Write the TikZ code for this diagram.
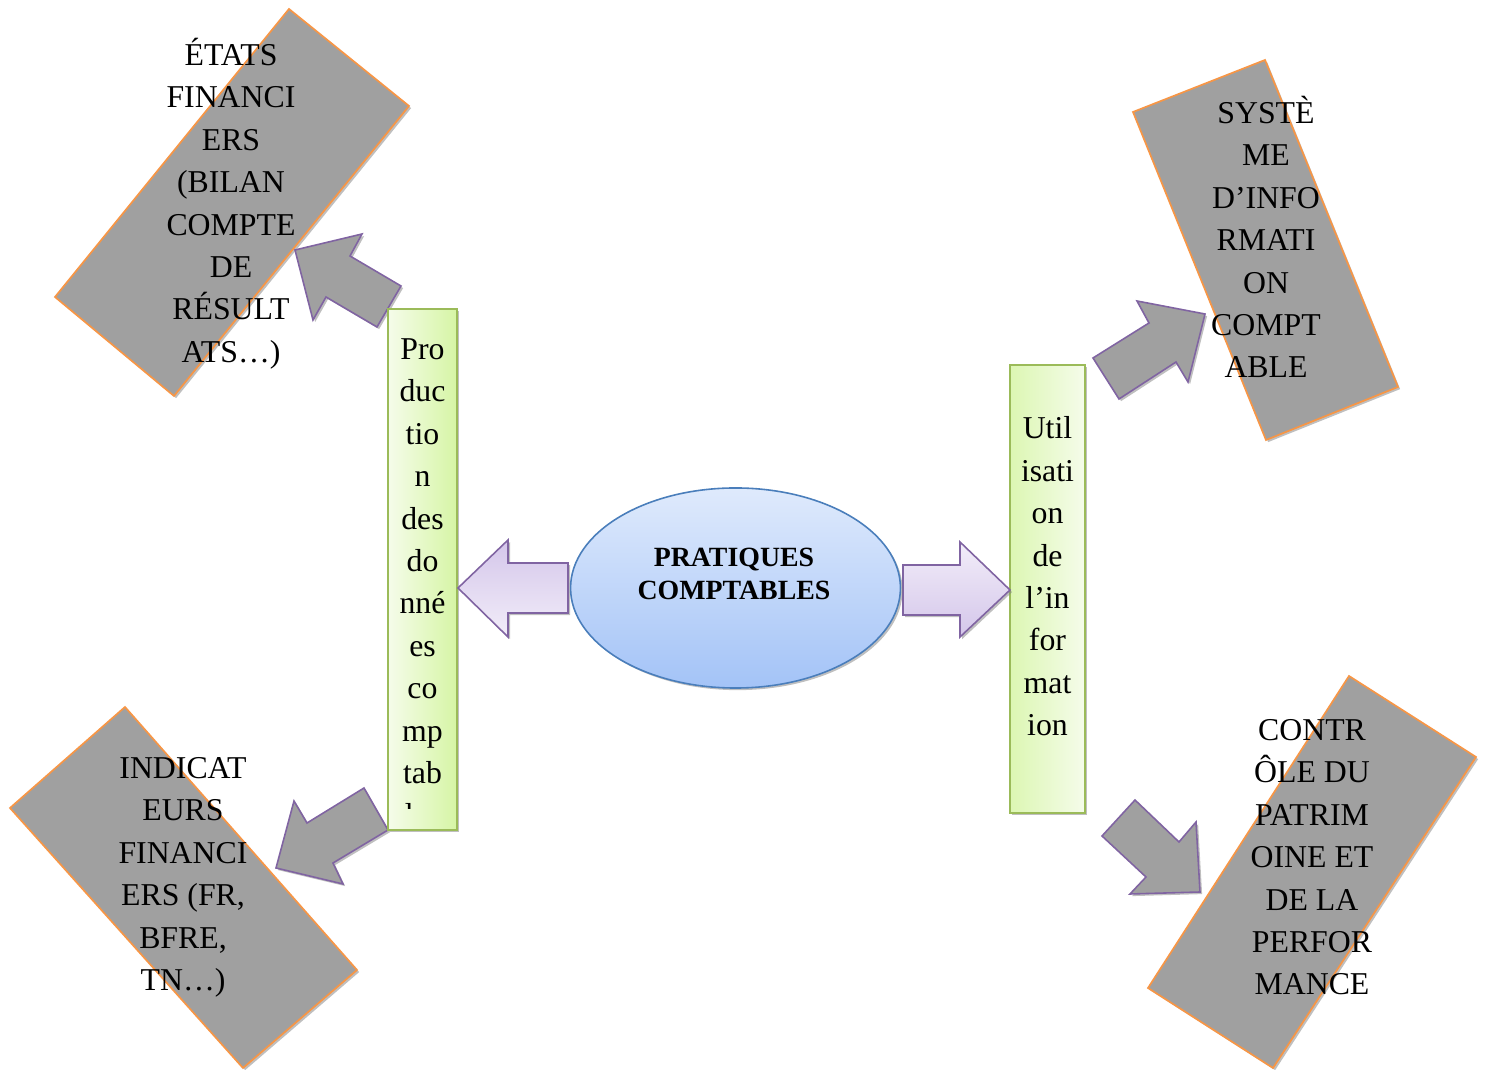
\documentclass[tikz,border=0pt]{standalone}
\usepackage{fontspec}
\setmainfont{Liberation Serif}
\usetikzlibrary{shadows,shapes.geometric}
\definecolor{boxgray}{RGB}{160,160,160}
\definecolor{orng}{RGB}{247,150,70}
\definecolor{purp}{RGB}{128,100,162}
\definecolor{grnb}{RGB}{155,187,89}
\definecolor{grnpale}{RGB}{245,252,234}
\definecolor{grnsat}{RGB}{214,245,165}
\definecolor{lavd}{RGB}{212,198,234}
\definecolor{lavl}{RGB}{242,237,249}
\definecolor{blt}{RGB}{223,234,252}
\definecolor{bdk}{RGB}{163,195,247}
\definecolor{bbord}{RGB}{74,126,187}
\begin{document}
\begin{tikzpicture}[x=0.3774pt,y=-0.3774pt,
  shd/.style={drop shadow={shadow xshift=0.8pt,shadow yshift=-0.8pt,opacity=0.5,fill=black!50}},
  graybox/.style={fill=boxgray,draw=orng,line width=0.65pt,line join=miter,shd},
  grayarrow/.style={fill=boxgray,draw=purp,line width=0.6pt,line join=miter,shd},
  lavarrow/.style={draw=purp,line width=0.6pt,line join=miter,shd},
  greenbox/.style={draw=grnb,line width=0.6pt,shd},
  boxtext/.style={font=\fontsize{12}{16}\selectfont,align=center,inner sep=0pt,anchor=north,text=black},
  midtext/.style={font=\fontsize{10.5}{12.5}\selectfont\bfseries,align=center,inner sep=0pt,text=black},
]
\useasboundingbox (0,0) rectangle (1485,1070);

% rotated grey boxes
\draw[graybox] (289,9) -- (409,106) -- (174,396) -- (55,297) -- cycle;
\draw[graybox] (1265,60) -- (1398,387) -- (1266,440) -- (1133,112) -- cycle;
\draw[graybox] (125,707) -- (357,970) -- (243,1068) -- (10,808) -- cycle;
\draw[graybox] (1349,676) -- (1476,757) -- (1273,1068) -- (1148,988) -- cycle;

% grey block arrows
\draw[grayarrow] (295,250) -- (362,234) -- (350,256) -- (401,286) -- (377,327) -- (326,297) -- (313,320) -- cycle;
\draw[grayarrow] (1205,314) -- (1188,382) -- (1176,362) -- (1119,399) -- (1093,358) -- (1149,323) -- (1137,301) -- cycle;
\draw[grayarrow] (276,868) -- (294,801) -- (307,823) -- (364,788) -- (388,830) -- (333,863) -- (343,884) -- cycle;
\draw[grayarrow] (1200,892) -- (1130,894) -- (1146,877) -- (1102,836) -- (1135,800) -- (1179,842) -- (1196,822) -- cycle;

% green boxes
\draw[greenbox,left color=grnpale,right color=grnsat] (388,309) rectangle (457,830);
\draw[greenbox,left color=grnsat!80!grnpale,right color=grnpale] (1010,365) rectangle (1085,813);

% lavender arrows
\draw[lavarrow,top color=lavd,bottom color=lavl] (458,588) -- (508,540) -- (508,563) -- (568,563) -- (568,613) -- (508,613) -- (508,637) -- cycle;
\draw[lavarrow,top color=lavl,bottom color=lavd] (903,565) -- (960,565) -- (960,542) -- (1010,590) -- (960,637) -- (960,615) -- (903,615) -- cycle;

% central ellipse
\node[ellipse,draw=bbord,line width=0.6pt,top color=blt,bottom color=bdk,shd,
      minimum width=124.5pt,minimum height=75.5pt,inner sep=0pt] (prat) at (735.5,588) {};
\node[midtext] (pratt) at (734,576) {\strut PRATIQUES\\COMPTABLES\strut};

% texts
\node[boxtext] (etats) at (231,35.3) {\strut ÉTATS\\FINANCI\\ERS\\(BILAN\\COMPTE\\DE\\RÉSULT\\ATS…)\strut};
\node[boxtext] (syst) at (1266,93.3) {\strut SYSTÈ\\ME\\D’INFO\\RMATI\\ON\\COMPT\\ABLE\strut};
\node[boxtext] (indic) at (183,748.3) {\strut INDICAT\\EURS\\FINANCI\\ERS (FR,\\BFRE,\\TN…)\strut};
\node[boxtext] (contr) at (1312,710.3) {\strut CONTR\\ÔLE DU\\PATRIM\\OINE ET\\DE LA\\PERFOR\\MANCE\strut};
\begin{scope}
\clip (388,309) rectangle (457,809);
\node[boxtext] (prod) at (422.5,329.3) {\strut Pro\\duc\\tio\\n\\des\\do\\nné\\es\\co\\mp\\tab\\les\strut};
\end{scope}
\node[boxtext] (util) at (1047.5,408.8) {\strut Util\\isati\\on\\de\\l’in\\for\\mat\\ion\strut};
\end{tikzpicture}
\end{document}
